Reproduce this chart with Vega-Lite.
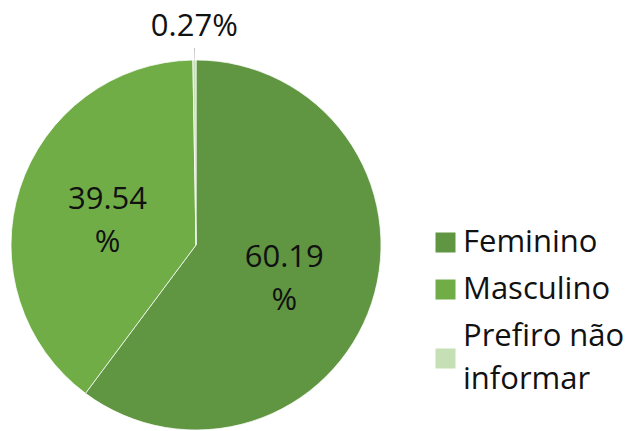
{
  "$schema": "https://vega.github.io/schema/vega-lite/v6.json",
  "width": 392,
  "height": 372,
  "autosize": "none",
  "padding": {"left": 0, "top": 59, "right": 242, "bottom": 0},
  "background": "white",
  "config": {"view": {"stroke": null}, "style": {"guide-label": {"lineHeight": 43}}},
  "data": {"values": [
    {"category": "Feminino", "pct": 60.19, "label": "60.19 %"},
    {"category": "Masculino", "pct": 39.54, "label": "39.54 %"},
    {"category": "Prefiro não informar", "pct": 0.27, "label": "0.27%"}
  ]},
  "encoding": {
    "theta": {"field": "pct", "type": "quantitative", "stack": true},
    "order": {"field": "category", "type": "nominal", "sort": "ascending"}
  },
  "layer": [
    {
      "mark": {"type": "arc", "outerRadius": 185, "stroke": "#ffffff", "strokeWidth": 0.75},
      "encoding": {
        "color": {
          "field": "category",
          "type": "nominal",
          "scale": {"domain": ["Feminino", "Masculino", "Prefiro não informar"], "range": ["#609641", "#70ad47", "#c5e0b4"]},
          "legend": {
            "orient": "none",
            "legendX": 430,
            "legendY": 168,
            "title": null,
            "padding": 0,
            "symbolType": "square",
            "symbolSize": 400,
            "symbolStrokeWidth": 0,
            "labelFont": "Open Sans",
            "labelFontSize": 31,
            "labelColor": "#111111",
            "labelOffset": 2,
            "labelLimit": 400,
            "rowPadding": 15,
            "labelBaseline": {"expr": "datum.label === 'Prefiro não informar' ? 'line-bottom' : 'middle'"},
            "labelExpr": "datum.label === 'Prefiro não informar' ? ['Prefiro não', 'informar'] : datum.label"
          }
        }
      }
    },
    {
      "mark": {"type": "arc", "innerRadius": 185, "outerRadius": 197, "padAngle": 0.011, "strokeWidth": 0},
      "encoding": {
        "detail": {"field": "category", "type": "nominal"},
        "fill": {"condition": {"test": "datum.category === 'Prefiro não informar'", "value": "#595959"}, "value": "transparent"}
      }
    },
    {
      "mark": {"type": "text", "font": "Open Sans", "fontSize": 31, "color": "#111111", "lineBreak": " ", "lineHeight": 43, "align": "center", "baseline": "middle", "dy": -16},
      "encoding": {
        "detail": {"field": "category", "type": "nominal"},
        "radius": {"field": "pct", "type": "quantitative", "scale": {"type": "linear", "zero": false, "nice": false, "clamp": true, "domain": [0.27, 39.54], "range": [202, 93]}},
        "text": {"field": "label", "type": "nominal"}
      }
    }
  ]
}
